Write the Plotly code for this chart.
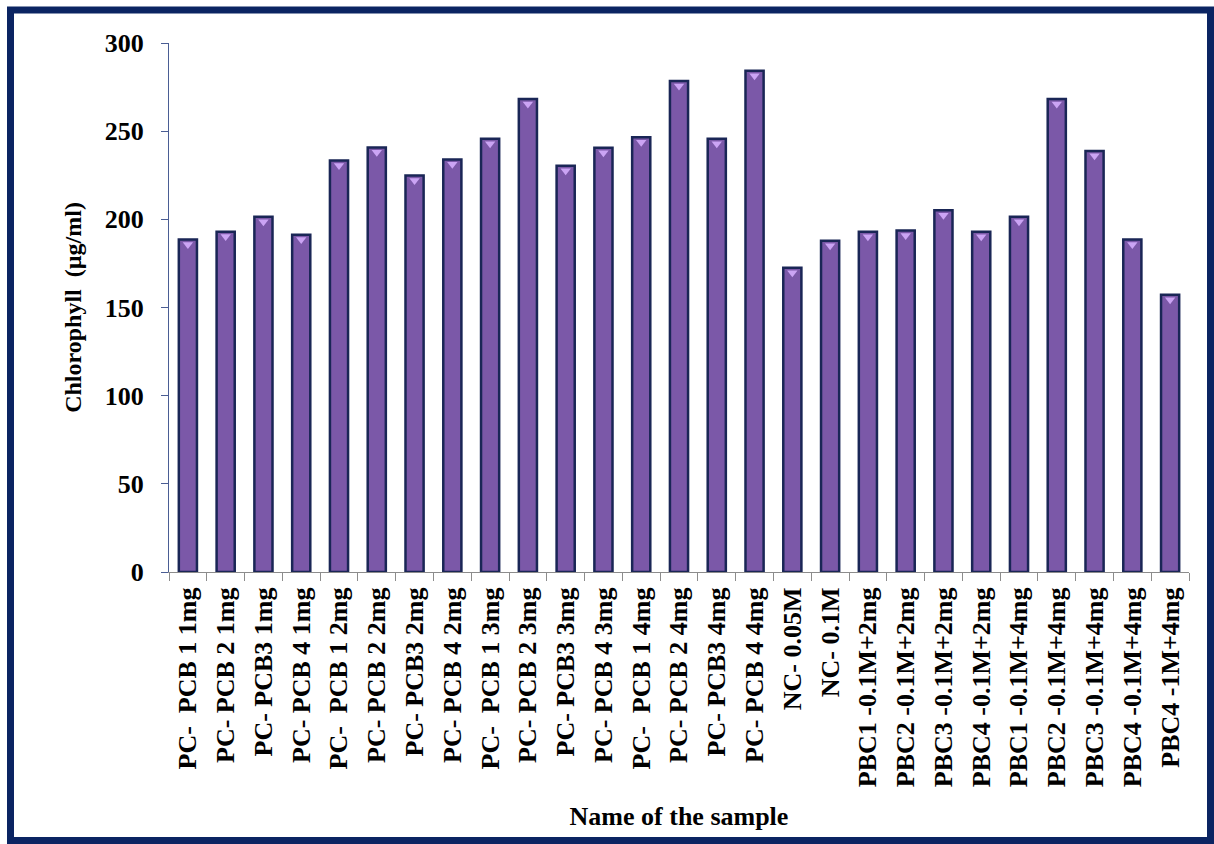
import plotly.graph_objects as go

samples = [
    "PC-  PCB 1 1mg", "PC- PCB 2 1mg", "PC- PCB3 1mg", "PC- PCB 4 1mg",
    "PC-  PCB 1 2mg", "PC- PCB 2 2mg", "PC- PCB3 2mg", "PC- PCB 4 2mg",
    "PC-  PCB 1 3mg", "PC- PCB 2 3mg", "PC- PCB3 3mg", "PC- PCB 4 3mg",
    "PC-  PCB 1 4mg", "PC- PCB 2 4mg", "PC- PCB3 4mg", "PC- PCB 4 4mg",
    "NC- 0.05M", "NC- 0.1M",
    "PBC1 -0.1M+2mg", "PBC2 -0.1M+2mg", "PBC3 -0.1M+2mg", "PBC4 -0.1M+2mg",
    "PBC1 -0.1M+4mg", "PBC2 -0.1M+4mg", "PBC3 -0.1M+4mg", "PBC4 -0.1M+4mg",
    "PBC4 -1M+4mg",
]
chlorophyll = [
    188.5, 193.0, 201.5, 191.3,
    233.4, 240.8, 224.8, 234.0,
    245.7, 268.2, 230.4, 240.6,
    246.5, 278.4, 245.7, 284.2,
    172.5, 187.8,
    192.9, 193.6, 205.1, 192.9,
    201.5, 268.2, 238.8, 188.5,
    157.2,
]
y_ticks = [0, 50, 100, 150, 200, 250, 300]

FONT = "Liberation Serif"
BAR_FILL = "#7b58a8"
BAR_EDGE = "#1a2656"
BEVEL = "#cba4f4"
FRAME = "#0b2462"

fig = go.Figure()

# main columns
fig.add_trace(go.Bar(
    x=samples, y=chlorophyll, width=0.48,
    marker=dict(color=BAR_FILL, line=dict(color=BAR_EDGE, width=2.5)),
    hoverinfo="x+y", showlegend=False,
))

# light bevel cap at the top of every column
fig.add_trace(go.Scatter(
    x=samples, y=[v - 2.8 for v in chlorophyll], mode="markers",
    marker=dict(symbol="triangle-down", size=9, color=BEVEL, line=dict(width=0)),
    hoverinfo="skip", showlegend=False,
))

# plot area geometry (pixels) used for the outer frame
W, H = 1214, 844
L, R, T, B = 169, 25, 43, 272
pw, ph = W - L - R, H - T - B

def px_x(p):
    return (p - L) / pw

def px_y(p):
    return (H - B - p) / ph

fig.add_shape(
    type="rect", xref="paper", yref="paper",
    x0=px_x(10.5), x1=px_x(1210.5), y0=px_y(840.5), y1=px_y(10),
    line=dict(color=FRAME, width=7), fillcolor="rgba(0,0,0,0)", layer="above",
)

fig.update_layout(
    width=W, height=H,
    margin=dict(l=L, r=R, t=T, b=B, pad=0),
    paper_bgcolor="white", plot_bgcolor="white",
    font=dict(family=FONT, color="black"),
    xaxis=dict(
        type="category",
        range=[-0.5, len(samples) - 0.5],
        tickangle=-90,
        tickfont=dict(family=FONT, size=26, color="black", weight="bold"),
        ticklabelstandoff=4,
        showline=True, linecolor="#8c8c8c", linewidth=1.2,
        ticks="outside", tickson="boundaries", ticklen=8, tickcolor="#8c8c8c",
        showgrid=False, zeroline=False,
        title=dict(text="Name of the sample", standoff=20,
                   font=dict(family=FONT, size=26, color="black", weight="bold")),
    ),
    yaxis=dict(
        range=[0, 300],
        tickvals=y_ticks,
        tickfont=dict(family=FONT, size=26, color="black", weight="bold"),
        ticklabelstandoff=12,
        showline=True, linecolor="#4a5d94", linewidth=1.2,
        ticks="outside", ticklen=7, tickcolor="#4a5d94",
        showgrid=False, zeroline=False,
        title=dict(text="Chlorophyll  (µg/ml)", standoff=16,
                   font=dict(family=FONT, size=24, color="black", weight="bold")),
    ),
)

fig.write_html("out.html")
